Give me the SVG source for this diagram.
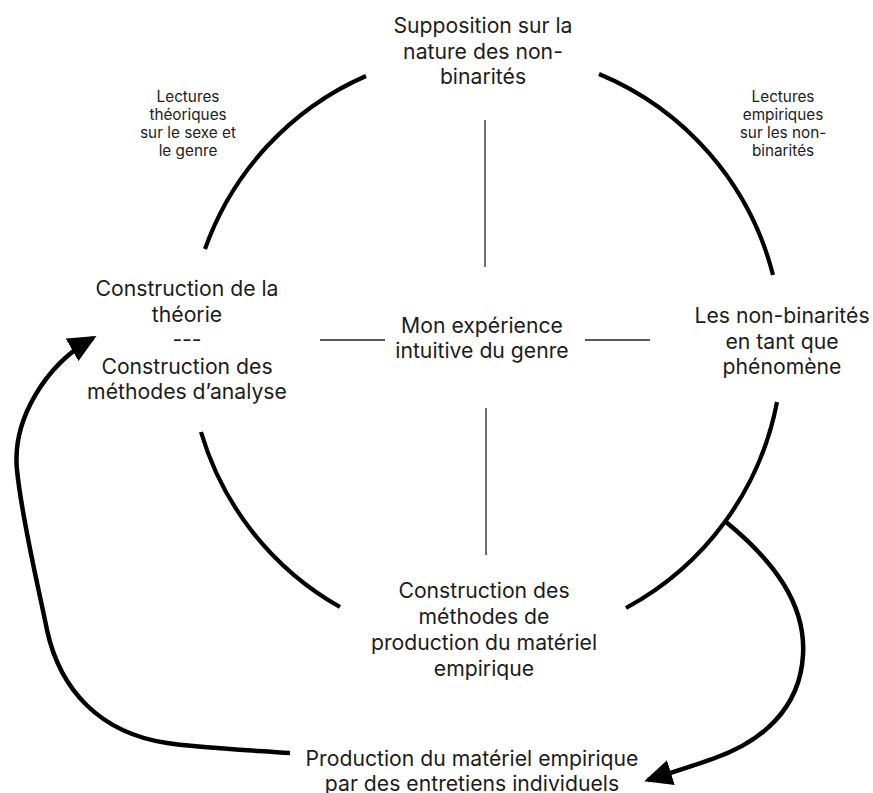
<svg xmlns="http://www.w3.org/2000/svg" width="873" height="793" viewBox="0 0 873 793">
<defs>
<style>
.lbl{font-family:Inter,"Noto Sans","Liberation Sans",sans-serif;font-size:21.2px;fill:#1c1c1c;text-anchor:middle}
.sm{font-family:Inter,"Noto Sans","Liberation Sans",sans-serif;font-size:15.3px;fill:#1c1c1c;text-anchor:middle}
.arc{fill:none;stroke:#000;stroke-width:4.2;stroke-linecap:butt}
.thin{fill:none;stroke:#222;stroke-width:1.3}
.arrow{fill:none;stroke:#000;stroke-width:4.5;marker-end:url(#head)}
</style>
<marker id="head" markerUnits="userSpaceOnUse" viewBox="0 0 28 26" markerWidth="28" markerHeight="26" refX="24" refY="13" orient="auto">
<path d="M0,0 L28,13 L0,26 z" fill="#000"/>
</marker>
</defs>
<rect width="873" height="793" fill="#fff"/>
<g id="cycle">
<path class="arc" d="M205,249 A297,297 0 0 1 366,76"/>
<path class="arc" d="M599,74 A297,297 0 0 1 773,275"/>
<path class="arc" d="M777,402 A297,297 0 0 1 626,608"/>
<path class="arc" d="M340,607 A297,297 0 0 1 201,432"/>
</g>
<g id="connectors">
<line class="thin" x1="485" y1="120" x2="485" y2="267"/>
<line class="thin" x1="486" y1="408" x2="486" y2="555"/>
<line class="thin" x1="320" y1="340" x2="385" y2="340"/>
<line class="thin" x1="585" y1="340" x2="650" y2="340"/>
<path class="arrow" d="M726,522 C775,562 806,605 803,655 C800,710 760,742 715,758 C690,767 670,773 648,780"/>
<path class="arrow" d="M290,753 C230,749 190,747 167,743 C100,733 60,690 47,630 C38,585 22,520 17,470 C12,420 45,365 93,338"/>
</g>
<g id="node-top">
<text class="lbl" x="483" y="33">Supposition sur la</text>
<text class="lbl" x="483" y="59">nature des non-</text>
<text class="lbl" x="483" y="84">binarités</text>
</g>
<g id="node-left">
<text class="lbl" x="187" y="296">Construction de la</text>
<text class="lbl" x="187" y="322">théorie</text>
<text class="lbl" x="187" y="347">---</text>
<text class="lbl" x="187" y="374">Construction des</text>
<text class="lbl" x="187" y="399">méthodes d’analyse</text>
</g>
<g id="node-right">
<text class="lbl" x="782" y="323">Les non-binarités</text>
<text class="lbl" x="782" y="349">en tant que</text>
<text class="lbl" x="782" y="374">phénomène</text>
</g>
<g id="node-center">
<text class="lbl" x="482" y="333">Mon expérience</text>
<text class="lbl" x="482" y="358">intuitive du genre</text>
</g>
<g id="node-bottom">
<text class="lbl" x="484" y="598">Construction des</text>
<text class="lbl" x="484" y="624">méthodes de</text>
<text class="lbl" x="484" y="650">production du matériel</text>
<text class="lbl" x="484" y="676">empirique</text>
</g>
<g id="node-production">
<text class="lbl" x="472" y="766">Production du matériel empirique</text>
<text class="lbl" x="472" y="791">par des entretiens individuels</text>
</g>
<g id="label-theory">
<text class="sm" x="188" y="102">Lectures</text>
<text class="sm" x="188" y="120">théoriques</text>
<text class="sm" x="188" y="138">sur le sexe et</text>
<text class="sm" x="188" y="156">le genre</text>
</g>
<g id="label-empirical">
<text class="sm" x="783" y="102">Lectures</text>
<text class="sm" x="783" y="120">empiriques</text>
<text class="sm" x="783" y="138">sur les non-</text>
<text class="sm" x="783" y="156">binarités</text>
</g>
</svg>
